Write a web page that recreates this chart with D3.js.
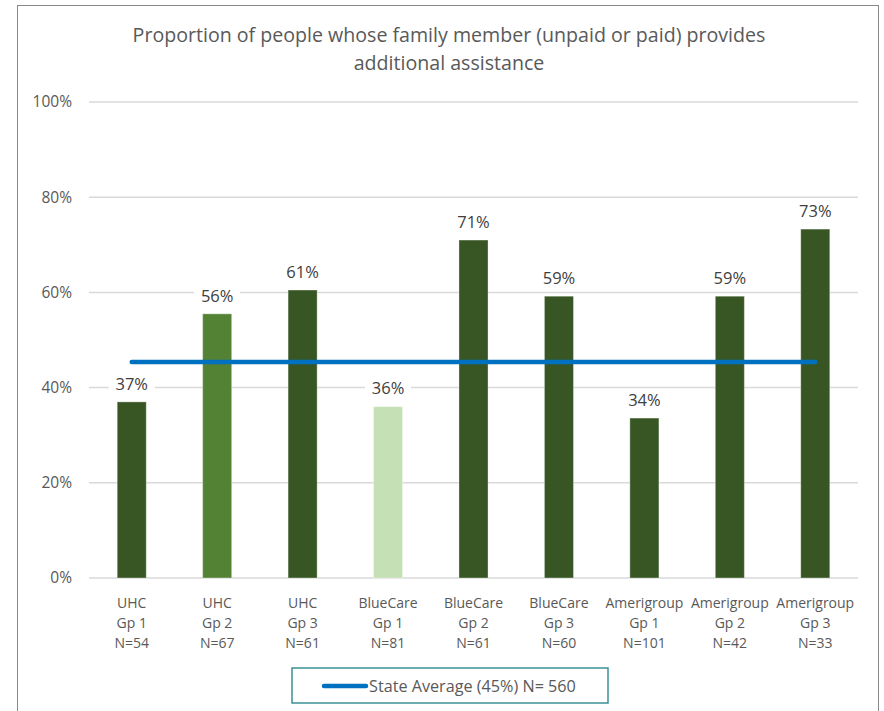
<!DOCTYPE html>
<html>
<head>
<meta charset="utf-8">
<script src="https://cdn.jsdelivr.net/npm/d3@7"></script>
<style>
  body { margin: 0; background: #fff; }
  svg { display: block; font-family: "Open Sans", sans-serif; }
</style>
</head>
<body>
<svg id="chart"></svg>
<script>
// chart data
const plans = ["UHC", "UHC", "UHC", "BlueCare", "BlueCare", "BlueCare", "Amerigroup", "Amerigroup", "Amerigroup"];
const groups = ["Gp 1", "Gp 2", "Gp 3", "Gp 1", "Gp 2", "Gp 3", "Gp 1", "Gp 2", "Gp 3"];
const sampleSizes = [54, 67, 61, 81, 61, 60, 101, 42, 33];
const values = [0.37, 0.555, 0.605, 0.36, 0.71, 0.592, 0.336, 0.592, 0.733];
const valueLabels = ["37%", "56%", "61%", "36%", "71%", "59%", "34%", "59%", "73%"];
const barColors = ["#375623", "#548235", "#375623", "#C5E0B4", "#375623", "#375623", "#375623", "#375623", "#375623"];
const yTicks = [0, 0.2, 0.4, 0.6, 0.8, 1.0];
const stateAverage = 0.454;
const legendText = "State Average (45%) N= 560";
const titleLines = ["Proportion of people whose family member (unpaid or paid) provides", "additional assistance"];

const width = 884, height = 711;
const margin = { top: 102, right: 26, bottom: 133, left: 89 };

const svg = d3.select("#chart")
    .attr("width", width)
    .attr("height", height);

// outer frame
svg.append("rect")
    .attr("x", 17.5).attr("y", 5.5)
    .attr("width", 861).attr("height", 720)
    .attr("fill", "#fff")
    .attr("stroke", "#898989")
    .attr("stroke-width", 1);

// title
svg.append("g").selectAll("text")
    .data(titleLines)
    .enter()
    .append("text")
    .attr("x", 449)
    .attr("y", (d, i) => 42 + i * 28)
    .attr("text-anchor", "middle")
    .attr("font-size", 19.6)
    .attr("fill", "#595959")
    .text(d => d);

const idx = d3.range(values.length);

let x = d3.scaleBand()
    .domain(idx)
    .range([margin.left, width - margin.right])
    .paddingInner(0.66)
    .paddingOuter(0.33);

let y = d3.scaleLinear()
    .domain([0, 1])
    .range([height - margin.bottom, margin.top]);

// gridlines
svg.append("g")
    .selectAll("line")
    .data(yTicks)
    .enter()
    .append("line")
    .attr("x1", margin.left)
    .attr("x2", width - margin.right)
    .attr("y1", d => y(d))
    .attr("y2", d => y(d))
    .attr("stroke", "#D9D9D9")
    .attr("stroke-width", 1.5);

// y axis labels
let yAxis = d3.axisLeft(y)
    .tickValues(yTicks)
    .tickFormat(d3.format(".0%"))
    .tickSize(0)
    .tickPadding(0);

const yg = svg.append("g")
    .attr("transform", "translate(72,0)")
    .call(yAxis);
yg.select(".domain").remove();
yg.selectAll("text")
    .attr("font-family", "Open Sans, sans-serif")
    .attr("font-size", 15.5)
    .attr("fill", "#595959");

// bars
svg.append("g")
    .selectAll("rect")
    .data(idx)
    .enter()
    .append("rect")
    .attr("x", i => x(i))
    .attr("y", i => y(values[i]))
    .attr("width", x.bandwidth())
    .attr("height", i => y(0) - y(values[i]))
    .attr("fill", i => barColors[i])
    .attr("stroke", "#ffffff")
    .attr("stroke-opacity", 0.35)
    .attr("stroke-width", 1);

// data labels with white backing
const lab = svg.append("g")
    .selectAll("g")
    .data(idx)
    .enter()
    .append("g")
    .attr("transform", i => "translate(" + (x(i) + x.bandwidth() / 2) + "," + (y(values[i]) - 18) + ")");

lab.append("rect")
    .attr("x", -23).attr("y", -11)
    .attr("width", 46).attr("height", 22)
    .attr("fill", "#fff");

lab.append("text")
    .attr("text-anchor", "middle")
    .attr("dy", "0.35em")
    .attr("font-size", 16.5)
    .attr("fill", "#404040")
    .text(i => valueLabels[i]);

// category labels
const cat = svg.append("g")
    .selectAll("text")
    .data(idx)
    .enter()
    .append("text")
    .attr("text-anchor", "middle")
    .attr("font-size", 14)
    .attr("fill", "#595959");

[plans, groups, sampleSizes.map(n => "N=" + n)].forEach((rows, r) => {
  cat.append("tspan")
      .attr("x", i => x(i) + x.bandwidth() / 2)
      .attr("y", 608 + r * 20)
      .text(i => rows[i]);
});

// state average line
const avgLine = d3.line()
    .x(i => x(i) + x.bandwidth() / 2)
    .y(() => y(stateAverage));

svg.append("path")
    .datum([0, values.length - 1])
    .attr("d", avgLine)
    .attr("fill", "none")
    .attr("stroke", "#0070C0")
    .attr("stroke-width", 4.5)
    .attr("stroke-linecap", "round");

// legend
const lg = svg.append("g");
lg.append("rect")
    .attr("x", 292).attr("y", 668)
    .attr("width", 316).attr("height", 35)
    .attr("fill", "#fff")
    .attr("stroke", "#3A9196")
    .attr("stroke-width", 1.5);
lg.append("line")
    .attr("x1", 324).attr("x2", 366)
    .attr("y1", 686).attr("y2", 686)
    .attr("stroke", "#0070C0")
    .attr("stroke-width", 4.5)
    .attr("stroke-linecap", "round");
lg.append("text")
    .attr("x", 369)
    .attr("y", 686)
    .attr("dy", "0.35em")
    .attr("font-size", 16.2)
    .attr("fill", "#595959")
    .text(legendText);
</script>
</body>
</html>
